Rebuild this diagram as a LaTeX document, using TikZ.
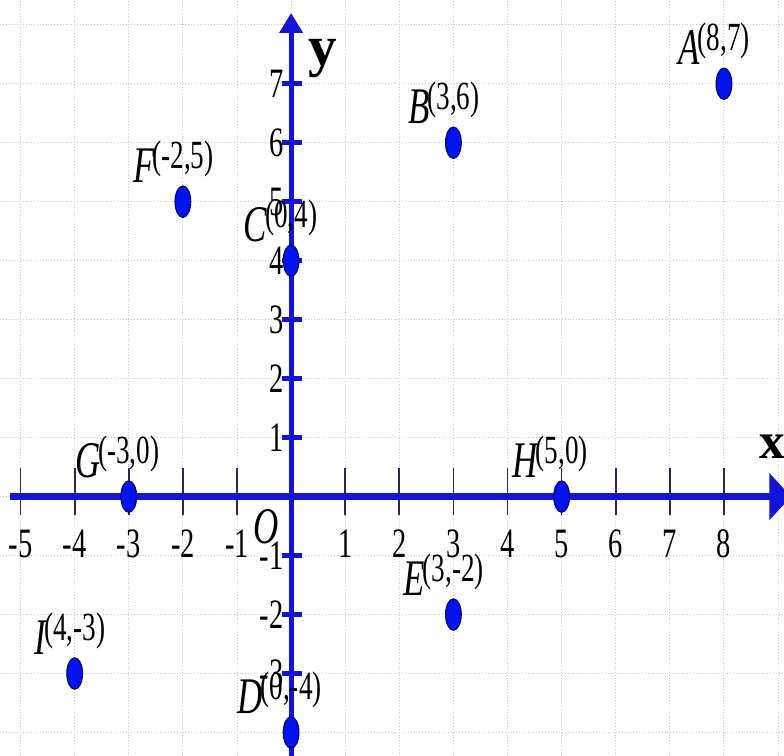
\documentclass[tikz,border=0pt]{standalone}
\usepackage{fontspec}
\setmainfont{Liberation Serif}
\usepackage{graphicx}
\usetikzlibrary{arrows.meta,shapes.geometric,positioning}

\definecolor{axisblue}{RGB}{20,20,215}
\definecolor{dotblue}{RGB}{0,20,235}
\definecolor{tickdark}{RGB}{40,40,80}

\newcommand{\narrow}[1]{\scalebox{0.68}[1]{#1}}

\tikzset{
  gridline/.style={gray!40,densely dotted,line width=0.5pt},
  xtickmark/.style={tickdark,line width=0.9pt},
  ytickmark/.style={axisblue,line width=2.6pt},
  pt/.style={ellipse,fill=dotblue,draw=blue!50!black,line width=0.6pt,
             minimum width=0.29cm,minimum height=0.58cm,inner sep=0pt},
  ptname/.style={inner sep=0pt,font=\fontsize{27}{27}\selectfont\itshape},
  ptcoord/.style={inner sep=0pt,font=\fontsize{21}{21}\selectfont},
  ticklbl/.style={inner sep=0pt,font=\fontsize{22}{22}\selectfont},
  axislbl/.style={inner sep=0pt,font=\fontsize{27}{27}\selectfont\bfseries}
}

\begin{document}
\begin{tikzpicture}[x=1cm,y=1.09cm]
  \useasboundingbox (-5.38,-4.39) rectangle (9.11,8.42);

  %-------------------------
  % Grid
  %-------------------------
  \foreach \i in {-5,...,9}
    \draw[gridline] (\i,-4.39) -- (\i,8.42);
  \foreach \j in {-4,...,8}
    \draw[gridline] (-5.38,\j) -- (9.11,\j);

  %-------------------------
  % Ticks and numbers on the x axis
  %-------------------------
  \foreach \i in {-5,-4,-3,-2,-1,1,2,3,4,5,6,7,8}{
    \draw[xtickmark] (\i,-0.32) -- (\i,0.49);
    \node[ticklbl] (xl\i) at (\i,-0.8) {\narrow{\i}};
  }

  %-------------------------
  % Axes
  %-------------------------
  \coordinate (xstart) at (-5.19,0);
  \coordinate (xend) at (9.24,0);
  \coordinate (ystart) at (0,-4.5);
  \coordinate (yend) at (0,8.2);
  \draw[axisblue,line width=3.7pt,-{Triangle[length=0.4cm,width=0.85cm]}] (xstart) -- (xend);
  \draw[axisblue,line width=2.6pt,-{Triangle[length=0.37cm,width=0.42cm]}] (ystart) -- (yend);

  \node[axislbl] (xname) at (8.89,0.85) {x};
  \node[axislbl,font=\fontsize{30}{30}\selectfont\bfseries] (yname) at (0.59,7.42) {y};

  %-------------------------
  % Ticks and numbers on the y axis
  %-------------------------
  \foreach \j in {-3,-2,-1,1,2,3,4,5,6,7}{
    \draw[ytickmark] (-0.17,\j) -- (0.2,\j);
    \node[ticklbl,anchor=east] (yl\j) at (-0.13,\j) {\narrow{\j}};
  }

  % origin
  \node[ptname] (O) at (-0.46,-0.51) {\narrow{O}};

  %-------------------------
  % Points with their coordinates
  %-------------------------
  \foreach \p/\px/\py/\c in {A/8/7/{(8,7)},B/3/6/{(3,6)},C/0/4/{(0,4)},
      D/0/-4/{(0,-4)},E/3/-2/{(3,-2)},F/-2/5/{(-2,5)},G/-3/0/{(-3,0)},
      H/5/0/{(5,0)},I/-4/-3/{(4,-3)}}{
    \node[pt] (\p) at (\px,\py) {};
    \path (\p.center) ++(0,0.72) node[ptcoord] (c\p) {\narrow{\c}};
    \node[ptname,anchor=east] (n\p) at ([xshift=1.5pt,yshift=-3.5pt]c\p.west) {\narrow{\p}};
  }

\end{tikzpicture}
\end{document}
